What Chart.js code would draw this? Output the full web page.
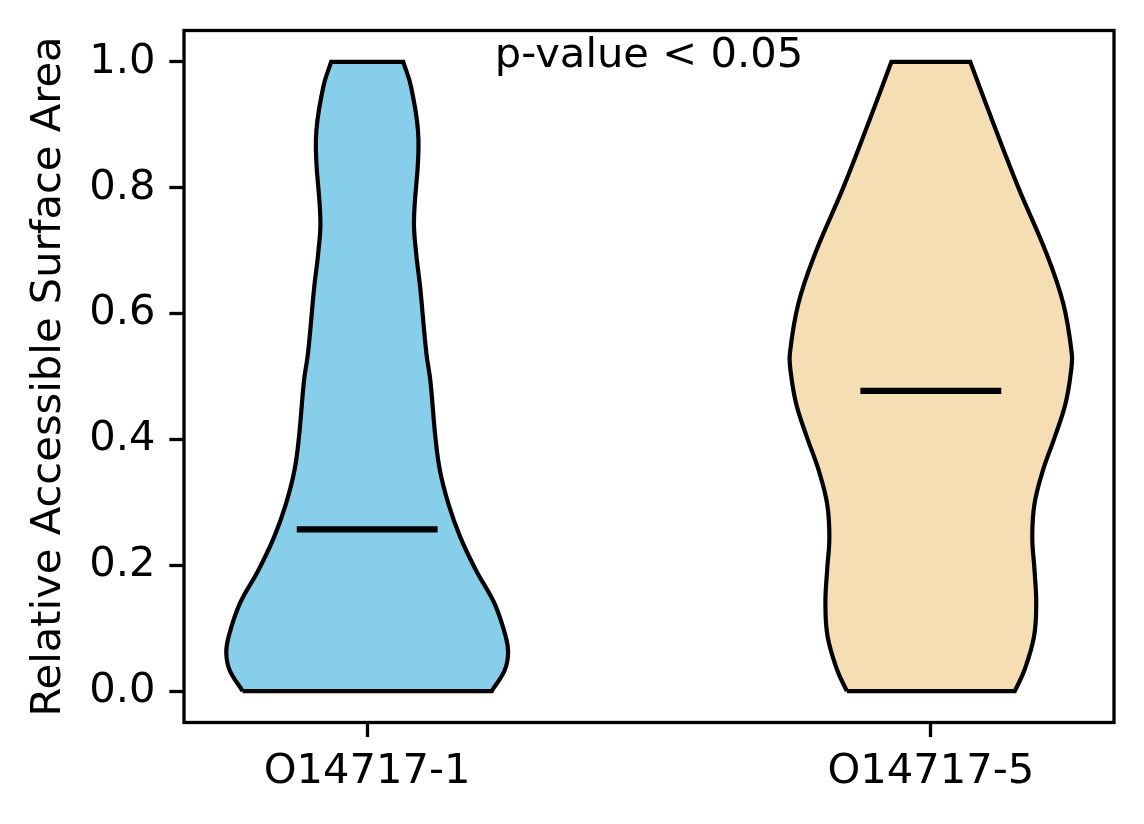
<!DOCTYPE html>
<html>
<head>
<meta charset="utf-8">
<title>Relative Accessible Surface Area</title>
<script src="https://cdn.jsdelivr.net/npm/chart.js@4.4.1/dist/chart.umd.min.js"></script>
<style>
  html, body { margin: 0; padding: 0; background: #fff; }
  canvas { display: block; }
</style>
</head>
<body>
<canvas id="violinChart" width="1144" height="824"></canvas>
<script>
// categories and their x positions
const categories = ["O14717-1", "O14717-5"];
const positions = [1, 2];

// violin outlines: y level -> half width (x units)
const yLevels1 = [0, 0.033, 0.06, 0.086, 0.139, 0.192, 0.245, 0.298, 0.351, 0.404, 0.494, 0.537, 0.642, 0.695, 0.748, 0.876, 0.96, 1.0];
const halfWidths1 = [0.221, 0.244, 0.25, 0.246, 0.226, 0.193, 0.165, 0.144, 0.129, 0.121, 0.112, 0.105, 0.094, 0.087, 0.083, 0.091, 0.078, 0.064];

const yLevels5 = [0, 0.033, 0.086, 0.139, 0.192, 0.245, 0.298, 0.351, 0.404, 0.457, 0.51, 0.537, 0.616, 0.696, 0.801, 0.907, 1.0];
const halfWidths5 = [0.149, 0.166, 0.183, 0.187, 0.184, 0.18, 0.184, 0.199, 0.22, 0.239, 0.249, 0.25, 0.235, 0.205, 0.155, 0.109, 0.07];

// center lines
const centers = [0.257, 0.477];

const yTicks = [0, 0.2, 0.4, 0.6, 0.8, 1.0];
const annotationText = "p-value < 0.05";
const annotationX = 1.5;
const annotationY = 1.0;

const fillColors = ["#87CEEB", "#F5DEB3"];
const FONT = 41.67;

// trace a closed outline: bottom edge, right side up, top edge, left side down
function outline(pos, levels, widths) {
  const n = levels.length;
  const pts = [];
  pts.push({ x: pos - widths[0], y: levels[0] });
  pts.push({ x: pos + widths[0], y: levels[0] });
  pts.push({ x: pos + widths[0], y: levels[0] });
  for (let i = 1; i < n - 1; i++) {
    pts.push({ x: pos + widths[i], y: levels[i] });
  }
  pts.push({ x: pos + widths[n - 1], y: levels[n - 1] });
  pts.push({ x: pos + widths[n - 1], y: levels[n - 1] });
  pts.push({ x: pos - widths[n - 1], y: levels[n - 1] });
  pts.push({ x: pos - widths[n - 1], y: levels[n - 1] });
  for (let i = n - 2; i > 0; i--) {
    pts.push({ x: pos - widths[i], y: levels[i] });
  }
  pts.push({ x: pos - widths[0], y: levels[0] });
  pts.push({ x: pos - widths[0], y: levels[0] });
  return pts;
}

function violinDataset(idx, levels, widths) {
  return {
    label: categories[idx],
    data: outline(positions[idx], levels, widths),
    backgroundColor: fillColors[idx],
    borderColor: "#000",
    borderWidth: 4.2,
    fill: "shape",
    tension: 0.4,
    pointRadius: 0,
    order: 2,
  };
}

function centerDataset(idx) {
  return {
    label: categories[idx] + " center",
    data: [
      { x: positions[idx] - 0.125, y: centers[idx] },
      { x: positions[idx] + 0.125, y: centers[idx] },
    ],
    borderColor: "#000",
    borderWidth: 6.25,
    borderCapStyle: "butt",
    fill: false,
    tension: 0,
    pointRadius: 0,
    order: 1,
  };
}

const framePlugin = {
  id: "frame",
  afterDatasetsDraw(chart) {
    const { ctx, chartArea } = chart;
    ctx.save();
    ctx.strokeStyle = "#000";
    ctx.lineWidth = 3.3;
    ctx.strokeRect(chartArea.left, chartArea.top, chartArea.right - chartArea.left, chartArea.bottom - chartArea.top);
    ctx.restore();
  },
};

const pvaluePlugin = {
  id: "pvalue",
  afterDatasetsDraw(chart) {
    const { ctx, scales } = chart;
    ctx.save();
    ctx.font = FONT + 'px "DejaVu Sans"';
    ctx.fillStyle = "#000";
    ctx.textAlign = "center";
    ctx.textBaseline = "alphabetic";
    ctx.fillText(annotationText, scales.x.getPixelForValue(annotationX), scales.y.getPixelForValue(annotationY) + 5);
    ctx.restore();
  },
};

const ctx = document.getElementById("violinChart").getContext("2d");
const violinChart = new Chart(ctx, {
  type: "line",
  data: {
    datasets: [
      violinDataset(0, yLevels1, halfWidths1),
      violinDataset(1, yLevels5, halfWidths5),
      centerDataset(0),
      centerDataset(1),
    ],
  },
  options: {
    responsive: false,
    animation: false,
    devicePixelRatio: 1,
    layout: { padding: { top: 30.5, right: 30, left: 0, bottom: 0 } },
    plugins: {
      legend: { display: false },
      tooltip: { enabled: false },
    },
    scales: {
      x: {
        type: "linear",
        min: 0.675,
        max: 2.325,
        afterBuildTicks: (scale) => {
          scale.ticks = positions.map((p) => ({ value: p }));
        },
        afterFit: (scale) => {
          scale.height = 101.5;
          scale.paddingLeft = 0;
          scale.paddingRight = 0;
        },
        ticks: {
          color: "#000",
          font: { family: "DejaVu Sans", size: FONT },
          padding: 10,
          maxRotation: 0,
          autoSkip: false,
          callback: (value) => categories[positions.indexOf(value)],
        },
        grid: {
          drawOnChartArea: false,
          drawTicks: true,
          tickLength: 14.6,
          tickWidth: 3.3,
          tickColor: "#000",
        },
        border: { display: false },
      },
      y: {
        type: "linear",
        min: -0.05,
        max: 1.05,
        afterBuildTicks: (scale) => {
          scale.ticks = yTicks.map((v) => ({ value: v }));
        },
        afterFit: (scale) => {
          scale.width = 184;
          scale.paddingTop = 0;
          scale.paddingBottom = 0;
        },
        ticks: {
          color: "#000",
          font: { family: "DejaVu Sans", size: FONT },
          padding: 14,
          callback: (value) => value.toFixed(1),
        },
        grid: {
          drawOnChartArea: false,
          drawTicks: true,
          tickLength: 14.6,
          tickWidth: 3.3,
          tickColor: "#000",
        },
        border: { display: false },
        title: {
          display: true,
          text: "Relative Accessible Surface Area",
          color: "#000",
          font: { family: "DejaVu Sans", size: FONT },
          padding: { top: 24, bottom: 0 },
        },
      },
    },
  },
  plugins: [framePlugin, pvaluePlugin],
});
</script>
</body>
</html>
